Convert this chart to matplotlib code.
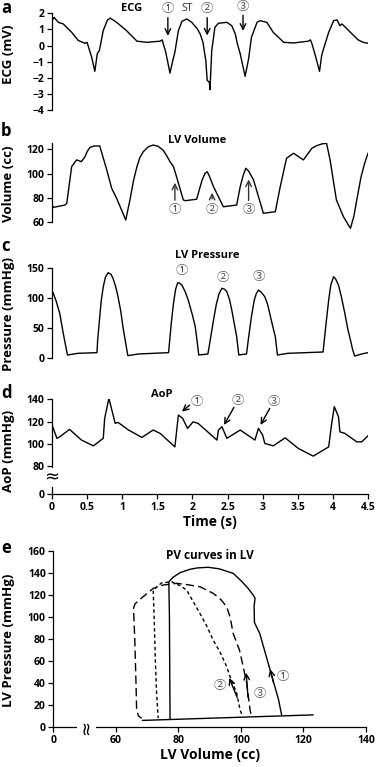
import matplotlib
matplotlib.use("Agg")
import matplotlib.pyplot as plt
import numpy as np

plt.rcParams['font.family'] = ['Open Sans', 'Noto Sans CJK KR', 'DejaVu Sans']
plt.rcParams['font.weight'] = 'bold'
plt.rcParams['axes.labelweight'] = 'bold'

# ---- data ----
ecg_t = [0.0, 0.03, 0.09, 0.16, 0.28, 0.375, 0.47, 0.50, 0.52, 0.565, 0.61, 0.645, 0.675,
         0.73, 0.79, 0.83, 0.92, 1.06, 1.21, 1.35, 1.54, 1.57, 1.585, 1.62, 1.68, 1.72,
         1.75, 1.80, 1.85, 1.92, 1.99, 2.07, 2.11, 2.15, 2.19, 2.21, 2.24, 2.25, 2.275,
         2.32, 2.37, 2.49, 2.56, 2.61, 2.64, 2.68, 2.75, 2.80, 2.84, 2.92, 2.96, 3.06,
         3.15, 3.30, 3.44, 3.65, 3.68, 3.70, 3.75, 3.81, 3.84, 3.86, 3.94, 4.01, 4.06,
         4.10, 4.13, 4.25, 4.36, 4.43, 4.50]
ecg_mv = [1.54, 1.75, 1.44, 1.34, 0.82, 0.31, 0.14, 0.20, -0.10, -0.72, -1.60, -0.50, -0.30,
          0.93, 1.59, 1.70, 1.44, 0.93, 0.27, 0.20, 0.27, 0.35, 0.10, -0.41, -1.71, -0.93,
          -0.41, 0.93, 1.50, 1.65, 1.44, 1.03, 0.72, 0.20, -0.93, -2.16, -2.27, -2.73, -0.31,
          1.13, 1.38, 1.44, 1.23, 0.72, 0.10, -0.51, -1.91, -0.82, 0.51, 1.44, 1.54, 1.44,
          0.82, 0.20, 0.16, 0.27, 0.35, 0.14, -0.62, -1.60, -0.62, -0.31, 0.82, 1.54, 1.59,
          1.23, 1.34, 0.82, 0.35, 0.20, 0.14]

vol_t = [0.0, 0.02, 0.185, 0.21, 0.28, 0.35, 0.42, 0.47, 0.50, 0.54, 0.60, 0.68, 0.78, 0.85,
         0.92, 1.05, 1.11, 1.16, 1.21, 1.25, 1.30, 1.37, 1.44, 1.51, 1.58, 1.63, 1.68, 1.73,
         1.78, 1.87, 1.90, 2.06, 2.11, 2.14, 2.18, 2.21, 2.24, 2.30, 2.44, 2.63, 2.68, 2.72,
         2.76, 2.80, 2.87, 3.01, 3.18, 3.25, 3.34, 3.44, 3.58, 3.70, 3.77, 3.85, 3.91, 3.96,
         4.05, 4.15, 4.25, 4.30, 4.34, 4.40, 4.45, 4.50]
vol_cc = [74.0, 72.1, 74.0, 75.4, 105.7, 111.2, 109.8, 113.9, 118.0, 121.5, 122.7, 122.7,
          102.9, 87.8, 79.6, 61.7, 78.2, 94.0, 105.7, 113.0, 118.0, 122.0, 123.5, 122.5,
          119.4, 115.0, 109.8, 105.7, 96.1, 78.2, 77.6, 78.8, 89.1, 95.0, 100.2, 101.5, 98.0,
          89.1, 72.6, 74.0, 89.1, 98.0, 104.3, 102.0, 94.7, 67.2, 68.5, 89.1, 112.6, 116.7,
          111.2, 120.8, 123.0, 124.5, 124.9, 111.2, 78.2, 64.4, 54.8, 65.0, 78.2, 97.0,
          108.0, 116.7]

lvp_t = [0.0, 0.02, 0.06, 0.11, 0.16, 0.22, 0.37, 0.64,
         0.65, 0.70, 0.73, 0.76, 0.80, 0.84, 0.87, 0.91, 0.94, 0.98, 1.01, 1.05, 1.08,
         1.23, 1.66,
         1.70, 1.73, 1.76, 1.79, 1.82, 1.85, 1.90, 1.94, 2.00, 2.04, 2.07, 2.09,
         2.22, 2.26, 2.30, 2.34, 2.38, 2.42, 2.46, 2.49, 2.53, 2.56, 2.60, 2.63, 2.66,
         2.77, 2.80, 2.84, 2.88, 2.91, 2.94, 2.98, 3.03, 3.07, 3.10, 3.14, 3.18, 3.21,
         3.36, 3.86, 3.90, 3.94, 3.97, 4.01, 4.04, 4.08, 4.12, 4.17, 4.21, 4.25, 4.28, 4.31,
         4.41, 4.50]
lvp_mmhg = [112, 108, 95, 75, 41.7, 5.5, 8.3, 9.4,
            30, 95, 119, 135, 142.7, 140, 133, 118, 102.7, 78, 52.7, 25, 4.4,
            7.2, 9.4,
            60, 91.7, 115, 126, 125, 122, 110, 97, 72, 52.7, 25, 5.5,
            7.2, 35, 63.8, 90, 108, 116.7, 115, 111, 97, 80.5, 55, 36, 5.5,
            7.2, 35, 69.3, 97, 108, 113.8, 110, 102.7, 90, 75, 55, 36, 5.5,
            8.3, 10.5, 55, 97, 122, 136, 132, 122, 103, 75, 50, 30.5, 15, 3.8,
            7.2, 9.4]

aop_t = [0.0, 0.07, 0.11, 0.25, 0.42, 0.59, 0.73, 0.75, 0.81, 0.87, 0.90, 0.94, 1.09, 1.28,
         1.44, 1.54, 1.75, 1.80, 1.86, 1.93, 2.01, 2.08, 2.35, 2.37, 2.42, 2.49, 2.68, 2.89,
         2.94, 3.00, 3.03, 3.08, 3.15, 3.32, 3.51, 3.72, 3.94, 3.98, 4.02, 4.08, 4.10, 4.17,
         4.34, 4.41, 4.50]
aop_mmhg = [117, 105, 106.3, 113, 103.4, 98.2, 105, 122.9, 140.9, 125.9, 118.4, 119.3, 112.4,
            105.8, 112.4, 109.4, 97.3, 125.9, 122.9, 113.9, 119.8, 118.4, 103.4, 112.4, 115.4,
            105, 112.4, 103.4, 113.9, 107.9, 100.4, 99.5, 98.2, 105.4, 95.8, 89, 97.3, 116.9,
            133.4, 124.3, 110.8, 109.4, 101.8, 101.8, 107.2]

# PV loops (volume cc, pressure mmHg)
fill_vol = [68.5, 123.0]
fill_p = [6.0, 11.0]
pv1_vol = [113, 112, 109, 106, 104.3, 104.2, 104.5, 103.9, 102.3, 100, 97.5, 93, 89.5, 86,
           83.7, 80.5, 78.2, 76.9, 77.1, 77.2, 77.3]
pv1_p = [11, 25, 55, 85, 95, 110, 117, 120, 126, 133, 139.7, 143.8, 145.2, 144.6,
         143.4, 140.3, 136, 132, 100, 50, 7.7]
pv2_vol = [100.2, 99.7, 98.6, 96.5, 95.4, 93.3, 91.1, 89, 86.9, 84.5, 82.6, 80.5, 77.8,
           74.6, 71.9, 72.2, 72.6, 73.0, 73.5]
pv2_p = [12, 15.5, 31, 45.7, 55, 68, 79, 92, 103, 115, 124.5, 128.5, 132, 131, 124.5,
         100, 60, 30, 8]
pv3_vol = [103.2, 102.9, 101.8, 100.7, 99.5, 97.5, 96.5, 95.4, 93.5, 91.1, 86.9, 82.6,
           79.4, 75, 71.9, 68.7, 66.1, 65.6, 66.0, 66.4, 66.6, 67.2, 68.2]
pv3_p = [12, 15.5, 40, 55, 70, 85, 100, 109.4, 116, 121.5, 127.5, 129.5, 130.6, 129,
         126, 118.5, 112, 108, 80, 40, 15.5, 10, 7.9]

W, H = 377, 767
fig = plt.figure(figsize=(W / 100, H / 100), dpi=100)


def frac(x0, y_top, x1, y_bot):
    return [x0 / W, 1 - y_bot / H, (x1 - x0) / W, (y_bot - y_top) / H]


TICK = dict(labelsize=7.5, length=3.5, width=0.9, pad=2)
LW = 1.0
CIRC = dict(fontsize=9, color='#555555', fontweight='normal', ha='center', va='center',
            family=['Noto Sans CJK KR', 'DejaVu Sans'])


def bold_ticks(ax):
    for lab in ax.get_xticklabels() + ax.get_yticklabels():
        lab.set_fontweight('bold')


def left_only(ax):
    for s in ['top', 'right', 'bottom']:
        ax.spines[s].set_visible(False)
    ax.spines['left'].set_linewidth(0.9)
    ax.set_xticks([])
    ax.tick_params(axis='y', **TICK)
    bold_ticks(ax)


# ---- a: ECG ----
ax = fig.add_axes(frac(52, 13.3, 368, 110))
ax.plot(ecg_t, ecg_mv, color='black', lw=LW)
ax.set_xlim(0, 4.5)
ax.set_ylim(-4, 2)
ax.set_yticks(range(-4, 3))
left_only(ax)
ax.text(1.14, 2.3, 'ECG', fontsize=8, ha='center', va='center')
ax.text(1.65, 2.3, '①', **CIRC)
ax.text(1.93, 2.3, 'ST', fontsize=7.5, fontweight='normal', color='#333333', ha='center', va='center')
ax.text(2.21, 2.3, '②', **CIRC)
ax.text(2.72, 2.45, '③', **CIRC)
for t0, y0, y1 in [(1.65, 1.9, 0.43), (2.21, 1.9, 0.45), (2.72, 2.05, 0.74)]:
    ax.annotate('', xy=(t0, y1), xytext=(t0, y0),
                arrowprops=dict(arrowstyle='->', lw=1.0, color='black'), annotation_clip=False)

# ---- b: LV volume ----
ax = fig.add_axes(frac(52, 143.2, 368, 230.5))
ax.plot(vol_t, vol_cc, color='black', lw=LW)
ax.set_xlim(0, 4.5)
ax.set_ylim(53, 125)
ax.spines['left'].set_bounds(60, 125)
ax.set_yticks([60, 80, 100, 120])
left_only(ax)
ax.text(2.07, 127, 'LV Volume', fontsize=8, ha='center', va='center')
for t0, lab_v, v0, v1, lab in [(1.75, 70, 75.7, 94.7, '①'), (2.28, 70, 76.8, 86.4, '②'),
                               (2.80, 70, 75.5, 97.4, '③')]:
    ax.text(t0, lab_v, lab, **CIRC)
    ax.annotate('', xy=(t0, v1), xytext=(t0, v0),
                arrowprops=dict(arrowstyle='->', lw=1.0, color='#333333'))

# ---- c: LV pressure ----
ax = fig.add_axes(frac(52, 268.3, 368, 358.3))
ax.plot(lvp_t, lvp_mmhg, color='black', lw=LW)
ax.set_xlim(0, 4.5)
ax.set_ylim(0, 150)
ax.set_yticks([0, 50, 100, 150])
left_only(ax)
ax.text(2.21, 171, 'LV Pressure', fontsize=8, ha='center', va='center')
ax.text(1.85, 146, '①', **CIRC)
ax.text(2.43, 135, '②', **CIRC)
ax.text(2.95, 137, '③', **CIRC)

# ---- d: AoP (broken y axis) ----
AOP_SHIFT = 55


def aop_pos(v):
    return np.asarray(v, dtype=float) - AOP_SHIFT


ax = fig.add_axes(frac(52, 399.3, 368, 494))
ax.plot(aop_t, aop_pos(aop_mmhg), color='black', lw=LW)
ax.set_xlim(0, 4.5)
ax.set_ylim(0, 85)
ax.set_yticks([0, 25, 45, 65, 85])
ax.set_yticklabels(['0', '80', '100', '120', '140'])
ax.set_xticks(np.arange(0, 4.51, 0.5))
ax.set_xticklabels(['0', '0.5', '1', '1.5', '2', '2.5', '3', '3.5', '4', '4.5'])
for s in ['top', 'right']:
    ax.spines[s].set_visible(False)
ax.spines['left'].set_linewidth(0.9)
ax.spines['bottom'].set_linewidth(0.9)
ax.tick_params(axis='both', **TICK)
bold_ticks(ax)
ax.set_xlabel('Time (s)', fontsize=10, labelpad=2)
ax.text(0, 14.5, '≈', fontsize=13, fontweight='normal', ha='center', va='center',
        family='DejaVu Sans',
        bbox=dict(facecolor='white', edgecolor='none', pad=0.2), clip_on=False)
ax.text(1.57, 89, 'AoP', fontsize=8, ha='center', va='center')
for lab, lx, ly, x0, y0, x1, y1 in [('①', 2.06, 137.8, 1.99, 136.4, 1.82, 127.4),
                                    ('②', 2.64, 138.7, 2.61, 134.9, 2.43, 114.8),
                                    ('③', 3.16, 137.8, 3.12, 134.0, 2.95, 114.8)]:
    ax.text(lx, aop_pos(ly), lab, **CIRC)
    ax.annotate('', xy=(x1, aop_pos(y1)), xytext=(x0, aop_pos(y0)),
                arrowprops=dict(arrowstyle='->', lw=1.0, color='black'))

# ---- e: PV curves (broken x axis) ----
ax = fig.add_axes(frac(53.5, 551, 366, 727))
ax.plot(fill_vol, fill_p, color='black', lw=LW)
ax.plot(pv1_vol, pv1_p, color='black', lw=LW)
ax.plot(pv2_vol, pv2_p, color='black', lw=LW, linestyle=(0, (2.5, 2)))
ax.plot(pv3_vol, pv3_p, color='black', lw=LW, linestyle=(0, (6, 3)))
ax.set_xlim(40, 140)
ax.set_ylim(0, 160)
ax.set_xticks([40, 60, 80, 100, 120, 140])
ax.set_xticklabels(['0', '60', '80', '100', '120', '140'])
ax.set_yticks(range(0, 161, 20))
for s in ['top', 'right']:
    ax.spines[s].set_visible(False)
ax.spines['left'].set_linewidth(0.9)
ax.spines['bottom'].set_linewidth(0.9)
ax.tick_params(axis='both', **TICK)
bold_ticks(ax)
ax.set_xlabel('LV Volume (cc)', fontsize=10, labelpad=2)
ax.text(50.5, 0, '≈', fontsize=13, fontweight='normal', rotation=90, ha='center', va='center',
        family='DejaVu Sans',
        bbox=dict(facecolor='white', edgecolor='none', pad=0.2), clip_on=False)
ax.text(90, 156, 'PV curves in LV', fontsize=8.5, ha='center', va='center')
for lab, lx, ly, x0, y0, x1, y1 in [('①', 113.5, 45.7, 110.6, 38, 109.1, 55),
                                    ('②', 93.3, 38, 99.1, 24.5, 95.9, 47),
                                    ('③', 105.9, 30.6, 102.3, 24.5, 101.6, 51.8)]:
    ax.text(lx, ly, lab, **CIRC)
    ax.annotate('', xy=(x1, y1), xytext=(x0, y0),
                arrowprops=dict(arrowstyle='->', lw=1.0, color='black'))

# ---- y labels and panel letters ----
for txt, yc in [('ECG (mV)', 54), ('Volume (cc)', 184), ('Pressure (mmHg)', 314),
                ('AoP (mmHg)', 451), ('LV Pressure (mmHg)', 640)]:
    fig.text(9 / W, 1 - yc / H, txt, rotation=90, fontsize=9.5, ha='center', va='center')
for txt, yc in [('a', 8), ('b', 131), ('c', 246), ('d', 393), ('e', 548)]:
    fig.text(6 / W, 1 - yc / H, txt, fontsize=12, ha='center', va='center')

fig.savefig('out.png', dpi=100)
